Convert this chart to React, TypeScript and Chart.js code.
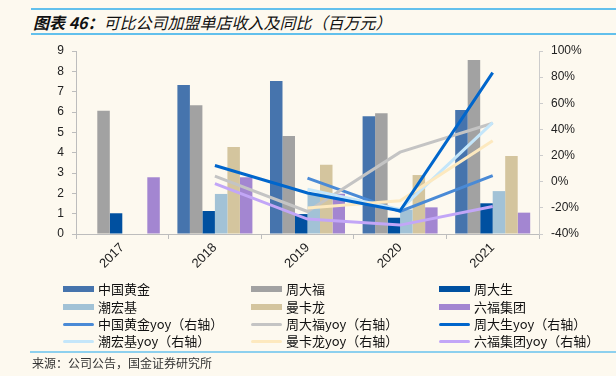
import React, { useEffect, useRef } from "react";
import { Chart, registerables } from "chart.js";

Chart.register(...registerables);

const categories = ["2017", "2018", "2019", "2020", "2021"];

const barNames = ["中国黄金", "周大福", "周大生", "潮宏基", "曼卡龙", "六福集团"];
const zgHuangjin = [null, 7.33, 7.52, 5.79, 6.1];
const zhouDaFu = [6.06, 6.33, 4.82, 5.94, 8.56];
const zhouDaSheng = [1.02, 1.13, 0.98, 0.8, 1.51];
const chaoHongJi = [null, 1.97, 2.0, 1.2, 2.11];
const manKaLong = [null, 4.28, 3.41, 2.9, 3.84];
const liuFu = [2.79, 2.79, 1.98, 1.31, 1.05];
const barValues = [zgHuangjin, zhouDaFu, zhouDaSheng, chaoHongJi, manKaLong, liuFu];
const barColors = ["#4674AD", "#A2A2A2", "#0050A0", "#A2C2D6", "#D4C59E", "#A386D1"];

const lineNames = [
  "中国黄金yoy（右轴）",
  "周大福yoy（右轴）",
  "周大生yoy（右轴）",
  "潮宏基yoy（右轴）",
  "曼卡龙yoy（右轴）",
  "六福集团yoy（右轴）",
];
const zgHuangjinYoy = [null, null, 2.7, -22.8, 4.6];
const zhouDaFuYoy = [null, 4.3, -22.8, 22.6, 44.7];
const zhouDaShengYoy = [null, 12.4, -8.6, -22.2, 83.4];
const chaoHongJiYoy = [null, null, -5.7, -21.3, 45.2];
const manKaLongYoy = [null, null, -20.2, -14.5, 31.4];
const liuFuYoy = [null, -1.4, -28.6, -33.2, -19];
const lineValues = [zgHuangjinYoy, zhouDaFuYoy, zhouDaShengYoy, chaoHongJiYoy, manKaLongYoy, liuFuYoy];
const lineColors = ["#4A8AD6", "#C4C4C4", "#0066CC", "#C4E6FA", "#FDE9BF", "#C2A6F7"];

const leftTicks = [0, 9, 1];
const rightTicks = [-40, 100, 20];

const titleBold = "图表 46：";
const titleRest = "可比公司加盟单店收入及同比（百万元）";
const sourceText = "来源：公司公告，国金证券研究所";

const BG = "#FDF9EF";
const AXIS = "#BDBDBD";
const TICKFONT = { family: "'Liberation Sans', Arial, sans-serif", size: 12 };
const XFONT = { family: "'Liberation Sans', Arial, sans-serif", size: 13 };

export default function App() {
  const ref = useRef<HTMLCanvasElement>(null);

  useEffect(() => {
    if (!ref.current) return;
    const datasets: any[] = [];
    barNames.forEach((n, i) => {
      datasets.push({
        type: "bar",
        label: n,
        data: barValues[i],
        backgroundColor: barColors[i],
        yAxisID: "y",
        order: 2,
        categoryPercentage: 0.81,
        barPercentage: 1.0,
      });
    });
    lineNames.forEach((n, i) => {
      datasets.push({
        type: "line",
        label: n,
        data: lineValues[i],
        borderColor: lineColors[i],
        backgroundColor: lineColors[i],
        borderWidth: 3,
        pointRadius: 0,
        tension: 0,
        yAxisID: "y1",
        order: 1 - i * 0.01 - (i === 2 ? 0.5 : 0),
        spanGaps: false,
      });
    });
    const chart = new Chart(ref.current, {
      type: "bar",
      data: { labels: categories, datasets },
      options: {
        animation: false,
        responsive: false,
        layout: { padding: { top: 51, left: 0, right: 0, bottom: 0 } },
        plugins: { legend: { display: false }, tooltip: { enabled: false }, title: { display: false } },
        scales: {
          x: {
            offset: true,
            grid: { display: true, offset: true, drawOnChartArea: false, drawTicks: true, tickLength: 5, color: AXIS },
            border: { display: true, color: AXIS },
            ticks: { font: XFONT, color: "#222", minRotation: 45, maxRotation: 45, padding: 1 },
            afterFit: (s: any) => { s.height = 46; },
          },
          y: {
            position: "left",
            min: leftTicks[0],
            max: leftTicks[1],
            ticks: { stepSize: leftTicks[2], font: TICKFONT, color: "#222", padding: 8 },
            grid: { display: true, drawOnChartArea: false, drawTicks: true, tickLength: 4, color: AXIS },
            border: { display: true, color: AXIS },
            afterFit: (s: any) => { s.width = 76; },
          },
          y1: {
            position: "right",
            min: rightTicks[0],
            max: rightTicks[1],
            ticks: { stepSize: rightTicks[2], font: TICKFONT, color: "#222", padding: 8, callback: (v: any) => v + "%" },
            grid: { display: true, drawOnChartArea: false, drawTicks: true, tickLength: 4, color: "#CCCCCC" },
            border: { display: true, color: "#CCCCCC" },
            afterFit: (s: any) => { s.width = 77; },
          },
        },
      },
    } as any);
    return () => chart.destroy();
  }, []);

  const legendItems = [
    ...barNames.map((n, i) => ({ name: n, color: barColors[i], bar: true })),
    ...lineNames.map((n, i) => ({ name: n, color: lineColors[i], bar: false })),
  ];
  const colX = [63, 251, 439];
  const rowY = [289, 307, 324, 341];

  return (
    <div
      style={{
        position: "absolute",
        left: 0,
        top: 0,
        width: 616,
        height: 376,
        background: BG,
        overflow: "hidden",
        fontFamily: "'Noto Sans CJK SC', 'Liberation Sans', sans-serif",
      }}
    >
      <div style={{ position: "absolute", left: 31, right: 0, top: 8, height: 2, background: "#62C0EC" }} />
      <div style={{ position: "absolute", left: 31, right: 0, top: 33, height: 2, background: "#62C0EC" }} />
      <div
        style={{
          position: "absolute",
          left: 33,
          top: 11,
          fontSize: 16,
          lineHeight: "22px",
          fontStyle: "italic",
          color: "#111",
          whiteSpace: "nowrap",
        }}
      >
        <span style={{ fontWeight: "bold" }}>{titleBold}</span>
        <span>{titleRest}</span>
      </div>
      <canvas ref={ref} width={616} height={280} style={{ position: "absolute", left: 0, top: 0, width: 616, height: 280 }} />
      {legendItems.map((it, k) => {
        const c = k % 3;
        const r = Math.floor(k / 3);
        const h = it.bar ? 6 : 3;
        return (
          <div key={k}>
            <div
              style={{
                position: "absolute",
                left: colX[c],
                top: rowY[r] - h / 2,
                width: 31,
                height: h,
                background: it.color,
                borderRadius: it.bar ? 0 : 2,
              }}
            />
            <div
              style={{
                position: "absolute",
                left: colX[c] + 35,
                top: rowY[r] - 9,
                fontSize: 13,
                lineHeight: "18px",
                color: "#111",
                whiteSpace: "nowrap",
              }}
            >
              {it.name}
            </div>
          </div>
        );
      })}
      <div style={{ position: "absolute", left: 30, right: 0, top: 351, height: 2, background: "#8DD0EE" }} />
      <div
        style={{
          position: "absolute",
          left: 32,
          top: 355,
          fontSize: 12,
          lineHeight: "16px",
          color: "#333",
          whiteSpace: "nowrap",
        }}
      >
        {sourceText}
      </div>
    </div>
  );
}
